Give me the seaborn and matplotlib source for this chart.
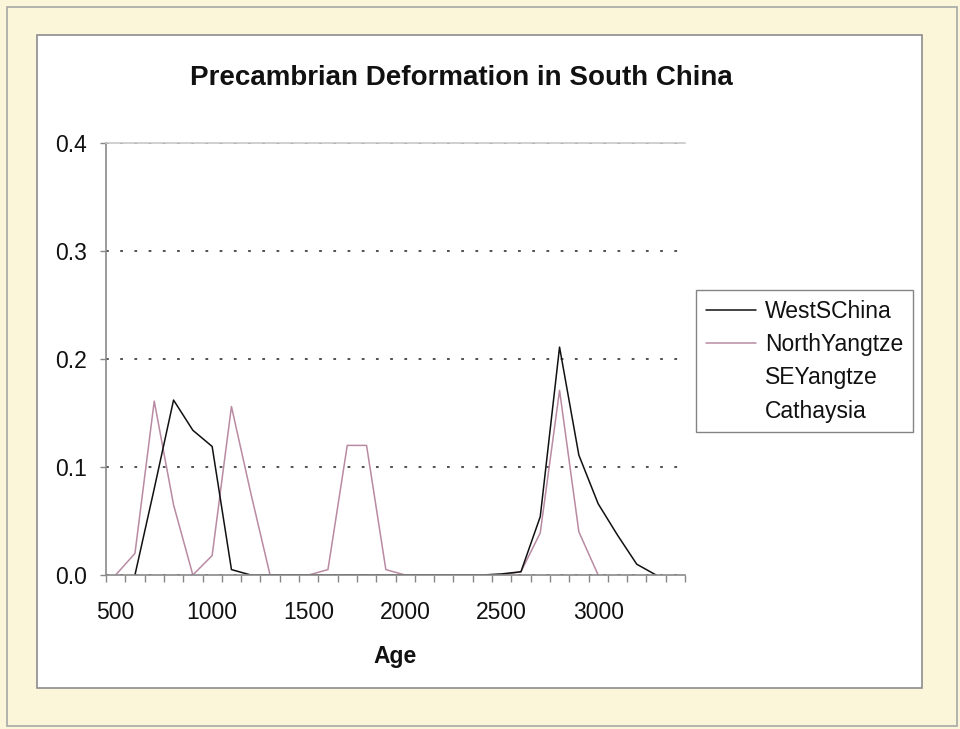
import matplotlib
matplotlib.use("Agg")
import matplotlib.pyplot as plt
import seaborn as sns
import pandas as pd
import numpy as np
from matplotlib.lines import Line2D
from matplotlib.patches import Rectangle
from matplotlib.ticker import FixedLocator, FormatStrFormatter

# ---------------- data ----------------
ages = list(range(500, 3500, 100))  # 30 categories: 500 ... 3400

west_s_china = [np.nan, 0.0, 0.080, 0.162, 0.134, 0.119, 0.005, 0.0, 0.0, 0.0,
                0.0, 0.0, 0.0, 0.0, 0.0, 0.0, 0.0, 0.0, 0.0, 0.0,
                0.001, 0.003, 0.054, 0.211, 0.111, 0.066, 0.037, 0.010, 0.0, np.nan]

north_yangtze = [0.0, 0.020, 0.161, 0.065, 0.0, 0.018, 0.156, 0.076, 0.0, 0.0,
                 0.0, 0.005, 0.120, 0.120, 0.005, 0.0, 0.0, 0.0, 0.0, 0.0,
                 0.0, 0.003, 0.039, 0.171, 0.040, 0.0, np.nan, np.nan, np.nan, np.nan]

series_names = ["WestSChina", "NorthYangtze", "SEYangtze", "Cathaysia"]
series_colors = ["#111111", "#b98aa3", "none", "none"]

title = "Precambrian Deformation in South China"
x_label = "Age"
x_ticks = [500, 1000, 1500, 2000, 2500, 3000]
y_ticks = [0.0, 0.1, 0.2, 0.3, 0.4]

# ---------------- build long table ----------------
df = pd.concat([
    pd.DataFrame({"Age": ages, "value": west_s_china, "series": "WestSChina"}),
    pd.DataFrame({"Age": ages, "value": north_yangtze, "series": "NorthYangtze"}),
]).dropna()

sns.set_theme(style="white")
plt.rcParams["font.family"] = ["Liberation Sans", "DejaVu Sans"]

W, H = 960, 729
fig = plt.figure(figsize=(W / 100, H / 100), dpi=100)
fig.patch.set_facecolor("#fbf6da")

# outer grey frame and inner white chart area
fig.patches.append(Rectangle((7 / W, 1 - 726 / H), 950 / W, 719 / H, transform=fig.transFigure,
                             facecolor="none", edgecolor="#a8a8a8", lw=1.2, zorder=-10))
fig.patches.append(Rectangle((37 / W, 1 - 688 / H), 885 / W, 653 / H, transform=fig.transFigure,
                             facecolor="white", edgecolor="#8c8c8c", lw=1.2, zorder=-9))

ax = fig.add_axes([106 / W, 1 - 575 / H, 579 / W, 432 / H])
ax.set_zorder(2)
ax.set_facecolor("white")

palette = {n: c for n, c in zip(series_names, series_colors) if c != "none"}
sns.lineplot(data=df, x="Age", y="value", hue="series", palette=palette,
             hue_order=["NorthYangtze", "WestSChina"], ax=ax, legend=False,
             linewidth=1.1, sort=True)

ax.set_xlim(450, 3450)
ax.set_ylim(0, 0.4)

# gridlines (dotted) at major y ticks
ax.yaxis.set_major_locator(FixedLocator(y_ticks))
ax.yaxis.set_major_formatter(FormatStrFormatter("%.1f"))
ax.grid(axis="y", linestyle=(0, (1.8, 7.5)), color="#222222", linewidth=1.1)
ax.grid(axis="x", visible=False)
ax.set_axisbelow(True)

# x ticks: labels at category centres, tick marks at category boundaries
ax.xaxis.set_major_locator(FixedLocator(x_ticks))
ax.xaxis.set_minor_locator(FixedLocator(list(range(450, 3451, 100))))
ax.tick_params(axis="x", which="major", length=0, pad=19, labelsize=16.5, colors="#111111")
ax.tick_params(axis="x", which="minor", length=5, width=1, color="#888888", direction="out", bottom=True)
ax.tick_params(axis="y", which="major", length=4, width=1, color="#888888", pad=10,
               labelsize=16.5, labelcolor="#111111", left=True)

for s in ["left", "bottom"]:
    ax.spines[s].set_color("#8a8a8a")
    ax.spines[s].set_linewidth(1.2)
ax.spines["top"].set_color("#c8c8c8")
ax.spines["top"].set_linewidth(1.2)
ax.spines["right"].set_visible(False)

ax.set_xlabel(x_label, fontsize=16.5, fontweight="bold", labelpad=15, color="#111111")
ax.set_ylabel("")

fig.text(461 / W, 1 - 78 / H, title, ha="center", va="center",
         fontsize=20, fontweight="bold", color="#111111")

handles = [Line2D([0], [0], color=c if c != "none" else "none", lw=1.1) for c in series_colors]
leg = fig.legend(handles, series_names, loc="upper left",
                 bbox_to_anchor=(696 / W, 1 - 290 / H), bbox_transform=fig.transFigure,
                 fontsize=16.5, frameon=True, fancybox=False, borderaxespad=0,
                 handlelength=2.2, handletextpad=0.4, labelspacing=0.45, borderpad=0.42)
leg.get_frame().set_edgecolor("#666666")
leg.get_frame().set_linewidth(1.0)
leg.get_frame().set_facecolor("white")
for t in leg.get_texts():
    t.set_color("#111111")

fig.savefig("out.png", dpi=100, facecolor=fig.get_facecolor())
